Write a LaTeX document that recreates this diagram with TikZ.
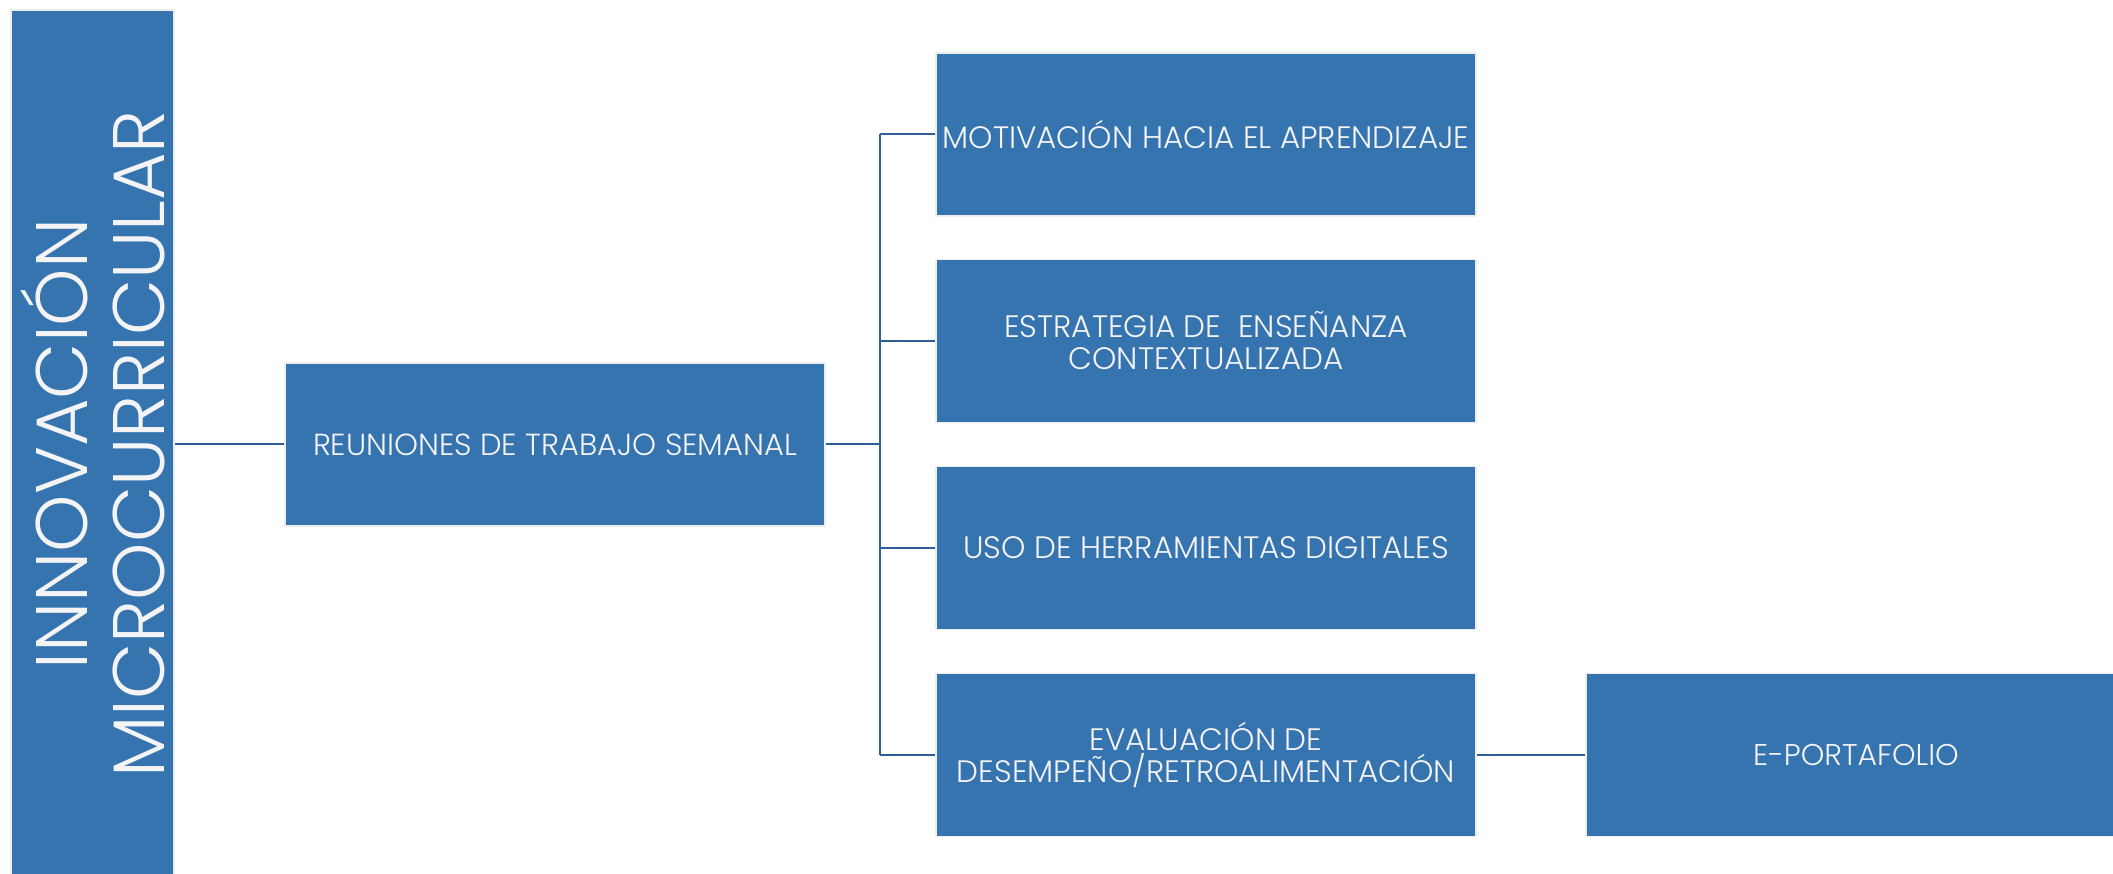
\documentclass[tikz,border=0pt]{standalone}
\usepackage{fontspec}
\setmainfont{Poppins}[UprightFont={* Light}]
\definecolor{boxblue}{RGB}{54,116,176}
\definecolor{lineblue}{RGB}{46,95,150}
\definecolor{rim}{RGB}{236,238,242}
\definecolor{txt}{RGB}{244,244,246}
\begin{document}
\begin{tikzpicture}[x=1pt,y=-1pt,
  blk/.style={rectangle,fill=boxblue,draw=rim,line width=1.5pt,inner sep=0pt,
    minimum width=540pt,minimum height=163pt,text=txt,align=center},
  midtxt/.style={font=\fontsize{31}{32}\selectfont},
  conn/.style={draw=lineblue,line width=2pt}]
\path[use as bounding box] (0,0) rectangle (2113,874);
\clip (0,0) rectangle (2113,874);
\node[blk,minimum width=163pt,minimum height=868pt] (root) at (92.5,444) {};
\node[rotate=90,text=txt,align=center,inner sep=0pt,
  font=\fontsize{73}{77}\selectfont] (roottxt) at (root.center) {INNOVACIÓN\\MICROCURRICULAR};
\node[blk,font=\fontsize{30.5}{32}\selectfont] (reu) at (555,444.5) {REUNIONES DE TRABAJO SEMANAL};
\node[blk,midtxt] (b1) at (1206,134.5) {MOTIVACIÓN HACIA EL APRENDIZAJE};
\node[blk,midtxt] (b2) at (1206,341) {ESTRATEGIA DE\ \ ENSEÑANZA\\CONTEXTUALIZADA};
\node[blk,midtxt] (b3) at (1206,548) {USO DE HERRAMIENTAS DIGITALES};
\node[blk,midtxt] (b4) at (1206,755) {EVALUACIÓN DE\\DESEMPEÑO/RETROALIMENTACIÓN};
\node[blk,font=\fontsize{30}{32}\selectfont] (ep) at (1856,755) {E-PORTAFOLIO};
\coordinate (bus) at (880,444.5);
\path[conn] (root.east |- reu.west) -- (reu.west);
\path[conn] (reu.east) -- (bus);
\path[conn] (bus |- b1.west) -- (bus |- b4.west);
\foreach \b in {b1,b2,b3,b4} {\path[conn] (bus |- \b.west) -- (\b.west);}
\path[conn] (b4.east) -- (ep.west);
\end{tikzpicture}
\end{document}
